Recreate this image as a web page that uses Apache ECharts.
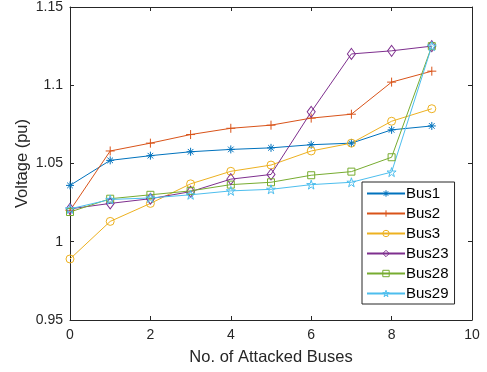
<!DOCTYPE html>
<html>
<head>
<meta charset="utf-8">
<script src="https://cdn.jsdelivr.net/npm/echarts@6/dist/echarts.min.js"></script>
<style>
  html, body { margin: 0; padding: 0; background: #fff; }
  #chart { width: 487px; height: 372px; }
</style>
</head>
<body>
<div id="chart"></div>
<script>
// Number of attacked buses (x) and bus voltages in pu for each monitored bus
const attacked = [0, 1, 2, 3, 4, 5, 6, 7, 8, 9];
const bus1  = [1.036, 1.052, 1.055, 1.0575, 1.059, 1.060, 1.062, 1.063, 1.0715, 1.074];
const bus2  = [1.020, 1.058, 1.063, 1.0685, 1.0725, 1.0745, 1.079, 1.0815, 1.102, 1.109];
const bus3  = [0.989, 1.013, 1.0245, 1.037, 1.045, 1.049, 1.058, 1.063, 1.077, 1.085];
const bus23 = [1.021, 1.0245, 1.0275, 1.032, 1.040, 1.043, 1.083, 1.120, 1.122, 1.125];
const bus28 = [1.019, 1.0275, 1.030, 1.0325, 1.0365, 1.038, 1.0425, 1.0448, 1.054, 1.125];
const bus29 = [1.021, 1.027, 1.028, 1.030, 1.0325, 1.0335, 1.0365, 1.038, 1.0445, 1.125];
const busNames = ['Bus1', 'Bus2', 'Bus3', 'Bus23', 'Bus28', 'Bus29'];
const xTicks = [0, 2, 4, 6, 8, 10];
const yTicks = [0.95, 1, 1.05, 1.1, 1.15];

const colors = ['#0072BD', '#D95319', '#EDB120', '#7E2F8E', '#77AC30', '#4DBEEE'];
const asterisk = 'path://M5,0L5,10M0,5L10,5M1.5,1.5L8.5,8.5M1.5,8.5L8.5,1.5';
const plus = 'path://M5,0L5,10M0,5L10,5';
const pentagram = 'path://M5,0L6.123,3.455L9.755,3.455L6.817,5.59L7.939,9.045L5,6.91L2.061,9.045L3.183,5.59L0.245,3.455L3.877,3.455Z';
const markers = [
  { symbol: asterisk, size: 8 },
  { symbol: plus, size: 9 },
  { symbol: 'circle', size: 8 },
  { symbol: 'diamond', size: [8, 11] },
  { symbol: 'rect', size: 7 },
  { symbol: pentagram, size: 9 }
];
const values = [bus1, bus2, bus3, bus23, bus28, bus29];

const axisColor = '#262626';
const font = 'Liberation Sans, Arial, Helvetica, sans-serif';
const hollow = c => ({ color: 'rgba(255,255,255,0)', borderColor: c, borderWidth: 1 });

const series = values.map((vals, i) => ({
  name: busNames[i],
  type: 'line',
  color: colors[i],
  data: attacked.map((x, k) => [x, vals[k]]),
  symbol: markers[i].symbol,
  symbolSize: markers[i].size,
  showAllSymbol: true,
  lineStyle: { color: colors[i], width: 1 },
  itemStyle: hollow(colors[i]),
  emphasis: { disabled: true },
  animation: false
}));

const tickCfg = { show: true, inside: true, length: 4, lineStyle: { color: axisColor } };
const lineCfg = { show: true, onZero: false, lineStyle: { color: axisColor, width: 1 } };

const option = {
  backgroundColor: '#fff',
  animation: false,
  grid: { left: 70, right: 15, top: 6, bottom: 52, containLabel: false },
  legend: {
    orient: 'vertical',
    left: 362,
    top: 182,
    padding: [4, 6, 3, 4],
    itemWidth: 38,
    itemHeight: 8,
    itemGap: 5,
    backgroundColor: '#fff',
    borderColor: axisColor,
    borderWidth: 1,
    borderRadius: 0,
    textStyle: { fontFamily: font, fontSize: 15, lineHeight: 15, color: '#000', padding: [0, 0, 0, -4] },
    data: busNames.map((n, i) => ({
      name: n,
      itemStyle: hollow(colors[i])
    }))
  },
  xAxis: [
    {
      type: 'value', min: 0, max: 10, interval: 2,
      name: 'No. of Attacked Buses', nameLocation: 'middle', nameGap: 29,
      nameMoveOverlap: false,
      nameTextStyle: { fontFamily: font, fontSize: 16.5, color: axisColor },
      axisLine: lineCfg, axisTick: tickCfg, splitLine: { show: false },
      axisLabel: { fontFamily: font, fontSize: 14, color: axisColor, margin: 8,
        formatter: v => xTicks.includes(v) ? String(v) : '' }
    },
    {
      type: 'value', min: 0, max: 10, interval: 2, position: 'top',
      axisLine: lineCfg, axisTick: tickCfg, splitLine: { show: false },
      axisLabel: { show: false }
    }
  ],
  yAxis: [
    {
      type: 'value', min: 0.95, max: 1.15, interval: 0.05,
      name: 'Voltage (pu)', nameLocation: 'middle', nameGap: 39,
      nameMoveOverlap: false,
      nameTextStyle: { fontFamily: font, fontSize: 16.5, color: axisColor },
      axisLine: lineCfg, axisTick: tickCfg, splitLine: { show: false },
      axisLabel: { fontFamily: font, fontSize: 14, color: axisColor, margin: 7,
        formatter: v => {
          const t = yTicks.find(y => Math.abs(y - v) < 1e-6);
          return t === undefined ? '' : String(t);
        } }
    },
    {
      type: 'value', min: 0.95, max: 1.15, interval: 0.05, position: 'right',
      axisLine: lineCfg, axisTick: tickCfg, splitLine: { show: false },
      axisLabel: { show: false }
    }
  ],
  series: series
};

const chart = echarts.init(document.getElementById('chart'), null, { renderer: 'canvas' });
chart.setOption(option);
</script>
</body>
</html>
